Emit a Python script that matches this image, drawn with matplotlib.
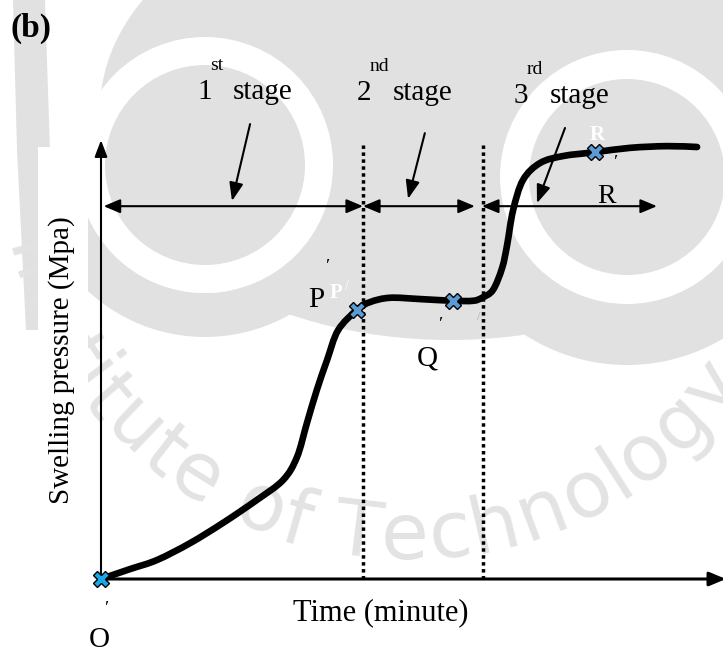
import numpy as np
import matplotlib
matplotlib.use("Agg")
import matplotlib.pyplot as plt
from matplotlib.patches import (Circle, Ellipse, Rectangle, Polygon, Wedge,
                                FancyArrowPatch, PathPatch)
from matplotlib.path import Path
from matplotlib.textpath import TextToPath
from matplotlib.font_manager import FontProperties

# ---------------------------------------------------------------- data
# Swelling pressure curve (schematic, arbitrary units)
time = [0.00, 1.11, 2.14, 3.40, 4.66, 5.95, 6.95, 7.48, 7.86, 8.24, 8.63,
        9.05, 9.77, 10.27, 11.03, 12.18, 13.44, 14.20, 14.54, 14.96, 15.31,
        15.50, 15.73, 16.11, 16.76, 17.63, 18.86, 20.19, 21.60, 22.75]
pressure = [0.00, 0.23, 0.44, 0.83, 1.30, 1.83, 2.29, 2.82, 3.61, 4.38, 5.07,
            5.76, 6.23, 6.41, 6.51, 6.48, 6.44, 6.44, 6.51, 6.69, 7.20,
            7.73, 8.54, 9.24, 9.63, 9.79, 9.88, 9.98, 10.02, 10.00]

# Characteristic points O', P', Q', R'
point_names = ["O", "P", "Q", "R"]
point_time = [0.00, 9.77, 13.44, 18.86]
point_pressure = [0.00, 6.23, 6.44, 9.88]

# Swelling stages
stage_numbers = ["1", "2", "3"]
stage_suffixes = ["st", "nd", "rd"]
stage_boundaries = [10.00, 14.58]
stage_span_start = [0.10, 10.00, 14.54]
stage_span_end = [10.00, 14.27, 21.22]

x_label = "Time (minute)"
y_label = "Swelling pressure (Mpa)"

# ---------------------------------------------------------------- layout
W, H = 723, 652
ORIGIN_PX = (101, 579)          # pixel position of the axes origin
PX_PER_T = 26.2                 # pixels per time unit
PX_PER_P = 43.2                 # pixels per pressure unit
Y_AXIS_TOP = 10.16
X_AXIS_END = 23.85
ROW_P = 8.63                    # height of the stage span arrows
DOT_TOP = 10.05

serif = "Liberation Serif"
grey = "#e1e1e1"

fig = plt.figure(figsize=(W / 100, H / 100), dpi=100)

# background layer in pixel coordinates (watermark + labels)
bg = fig.add_axes([0, 0, 1, 1])
bg.set_xlim(0, W)
bg.set_ylim(H, 0)
bg.axis("off")

# data layer
ax = fig.add_axes([0, 0, 1, 1])
ax.patch.set_visible(False)
ax.axis("off")
ax.set_xlim(-ORIGIN_PX[0] / PX_PER_T, (W - ORIGIN_PX[0]) / PX_PER_T)
ax.set_ylim(-(H - ORIGIN_PX[1]) / PX_PER_P, ORIGIN_PX[1] / PX_PER_P)

# ---------------------------------------------------------------- watermark
bg.add_patch(Ellipse((450, 110), 700, 460, color=grey, lw=0, zorder=0))
bg.add_patch(Polygon([(13, 0), (45, 0), (50, 150), (44, 330), (26, 330), (17, 150)],
                     closed=True, color=grey, lw=0, zorder=0))
bg.add_patch(Wedge((205, 165), 172, -60, 170, width=44, color=grey, lw=0, zorder=0))
bg.add_patch(Circle((627, 177), 188, color=grey, lw=0, zorder=0))
for (cx, cy, r_out, r_in) in [(205, 165, 128, 100), (627, 177, 127, 98)]:
    bg.add_patch(Circle((cx, cy), r_out, color="white", lw=0, zorder=0.1))
    bg.add_patch(Circle((cx, cy), r_in, color=grey, lw=0, zorder=0.2))

wm = "Institute of Technology"
fp = FontProperties(family="DejaVu Sans", size=56)
t2p = TextToPath()
widths = np.array([t2p.get_text_width_height_descent(c, fp, ismath=False)[0] * 100 / 72
                   for c in wm])
centers = np.cumsum(widths) - widths / 2
arc_c, arc_r = (405, 145), 392
anchor = wm.index("T")
for ch, c in zip(wm, centers):
    th = np.deg2rad(97) + (centers[anchor] - c) / arc_r
    x = arc_c[0] + arc_r * np.cos(th)
    y = arc_c[1] + arc_r * np.sin(th)
    bg.text(x, y, ch, fontproperties=fp, color="#e3e3e3", ha="center", va="center",
            rotation=90 - np.rad2deg(th), rotation_mode="anchor", zorder=0.3)

# white backing behind the y label
bg.add_patch(Rectangle((38, 147), 50, 453, color="white", lw=0, zorder=0.5))

# ---------------------------------------------------------------- labels
def txt(x, y, s, size, **kw):
    kw.setdefault("family", serif)
    kw.setdefault("color", "black")
    bg.text(x, y, s, fontsize=size, va="baseline", ha=kw.pop("ha", "left"), zorder=2, **kw)

txt(11, 37, "(b)", 24, fontweight="bold")

stage_pos = [(197, 99), (357, 100), (514, 103)]
for num, suf, (sx, sy) in zip(stage_numbers, stage_suffixes, stage_pos):
    txt(sx, sy, num, 21)
    txt(sx + 13, sy - 29, suf, 14)
    txt(sx + 36, sy, "stage", 21)

bg.text(62, 360, y_label, family=serif, fontsize=21, rotation=90,
        ha="center", va="center", zorder=2)
txt(381, 620, x_label, 22, ha="center")

txt(99, 647, "O", 21, ha="center")
txt(104, 614, "\u2032", 14)
txt(308, 307, "P", 21)
txt(325, 272, "\u2032", 14)
txt(330, 298, "P", 15, color="white", fontweight="bold")
txt(345, 290, "/", 10, color="white")
txt(417, 365, "Q", 21)
txt(438, 330, "\u2032", 14)
txt(477, 320, "/", 9, color="#b0b0b0")
txt(597, 203, "R", 20)
txt(613, 168, "\u2032", 14)
txt(590, 140, "R", 15, color="white", fontweight="bold")

# ---------------------------------------------------------------- axes and marks
def arrow(p0, p1, style, lw, hl, hw):
    ax.add_patch(FancyArrowPatch(p0, p1, arrowstyle=f"{style},head_length={hl},head_width={hw}",
                                 mutation_scale=1, lw=lw, color="black",
                                 shrinkA=0, shrinkB=0, zorder=3))

arrow((0, 0), (0, Y_AXIS_TOP), "-|>", 1.5, 10, 3.8)
arrow((0, 0), (X_AXIS_END, 0), "-|>", 2.2, 10, 4.2)

for tb in stage_boundaries:
    ax.plot([tb, tb], [0, DOT_TOP], color="black", lw=2.5, ls=(0, (1, 1)), zorder=2)

for a, b in zip(stage_span_start, stage_span_end):
    arrow((a, ROW_P), (b, ROW_P), "<|-|>", 1.5, 10, 4.2)

pointer_from = [(5.69, 10.53), (12.36, 10.32), (17.71, 10.44)]
pointer_to = [(5.00, 8.75), (11.72, 8.80), (16.64, 8.70)]
for p0, p1 in zip(pointer_from, pointer_to):
    arrow(p0, p1, "-|>", 1.5, 11, 4.2)


def smooth_path(xs, ys):
    """Cubic Bezier path through the given points (Catmull-Rom tangents)."""
    pts = np.column_stack([xs, ys]).astype(float)
    ext = np.vstack([pts[0], pts, pts[-1]])
    verts = [pts[0]]
    codes = [Path.MOVETO]
    for i in range(len(pts) - 1):
        p0, p1, p2, p3 = ext[i], ext[i + 1], ext[i + 2], ext[i + 3]
        verts += [p1 + (p2 - p0) / 6, p2 - (p3 - p1) / 6, p2]
        codes += [Path.CURVE4] * 3
    return Path(verts, codes)


ax.add_patch(PathPatch(smooth_path(time, pressure), fill=False, edgecolor="black",
                       lw=4.8, capstyle="round", joinstyle="round", zorder=4))

ax.plot(point_time[:1], point_pressure[:1], "X", ms=12, mfc="#1aa7e8", mec="black",
        mew=1.0, zorder=5, clip_on=False)
ax.plot(point_time[1:], point_pressure[1:], "X", ms=12, mfc="#5b9bd5", mec="black",
        mew=1.0, zorder=5)

fig.savefig("out.png", dpi=100)
